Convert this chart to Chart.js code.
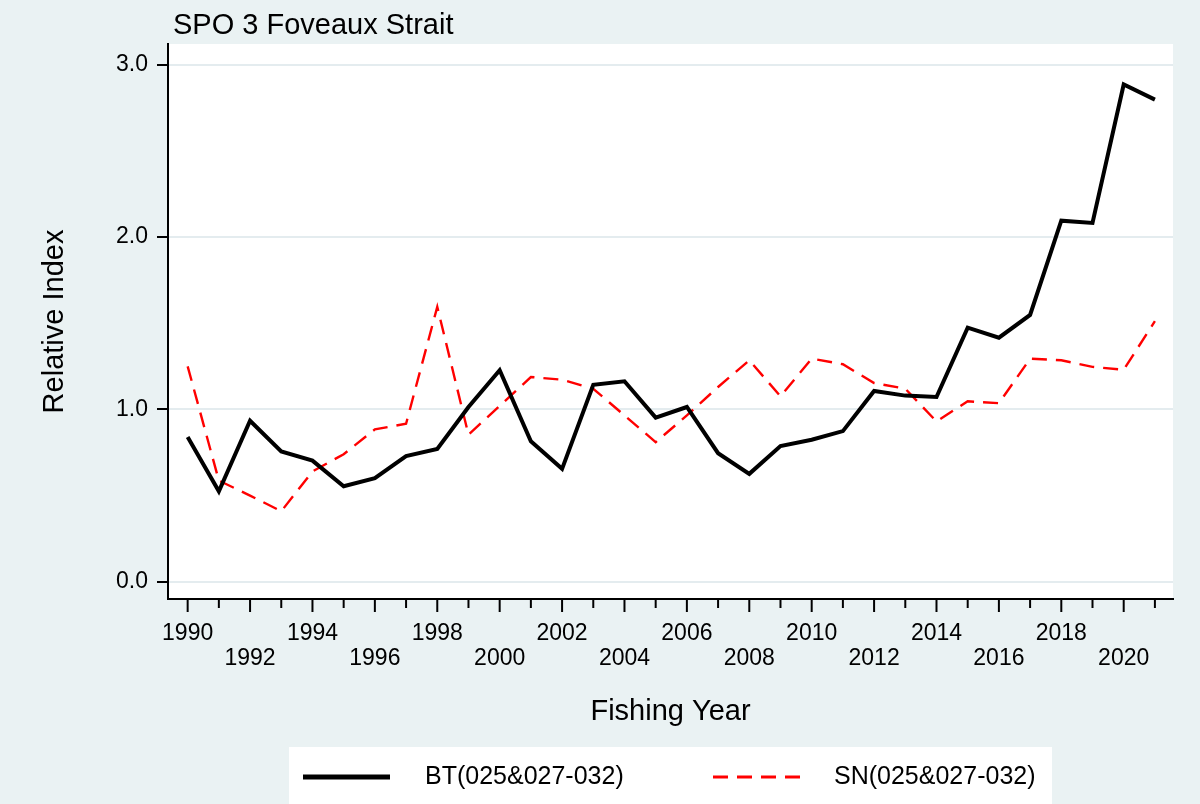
<!DOCTYPE html>
<html>
<head>
<meta charset="utf-8">
<script src="https://cdn.jsdelivr.net/npm/chart.js@4.4.1/dist/chart.umd.min.js"></script>
<style>
  body { margin: 0; background: #eaf2f3; }
  #myChart { display: block; }
</style>
</head>
<body>
<canvas id="myChart" width="1200" height="804"></canvas>
<script>
const years = [1990, 1991, 1992, 1993, 1994, 1995, 1996, 1997, 1998, 1999,
    2000, 2001, 2002, 2003, 2004, 2005, 2006, 2007, 2008, 2009,
    2010, 2011, 2012, 2013, 2014, 2015, 2016, 2017, 2018, 2019, 2020, 2021];

const btIndex = [0.84, 0.525, 0.934, 0.756, 0.703, 0.554, 0.601, 0.729, 0.771, 1.014,
    1.227, 0.815, 0.655, 1.143, 1.163, 0.952, 1.014, 0.746, 0.626, 0.787,
    0.824, 0.874, 1.107, 1.08, 1.072, 1.474, 1.416, 1.548, 2.095, 2.082, 2.885, 2.797];

const snIndex = [1.25, 0.587, 0.50, 0.409, 0.64, 0.74, 0.884, 0.917, 1.595, 0.853,
    1.02, 1.188, 1.172, 1.12, 0.965, 0.81, 0.965, 1.13, 1.285, 1.076,
    1.295, 1.262, 1.153, 1.12, 0.93, 1.047, 1.036, 1.294, 1.285, 1.247, 1.23, 1.512];

const yTicks = [0, 1, 2, 3];
const seriesNames = ['BT(025&027-032)', 'SN(025&027-032)'];

const fuente = 'Liberation Sans, Arial, sans-serif';
const fondo = '#eaf2f3';
const grafico = document.querySelector('#myChart');

const puntos = (valores) => years.map((anio, i) => ({ x: anio, y: valores[i] }));

const etiquetaAnio = (value) => {
    const anio = Math.round(value);
    const k = anio - 1990;
    if (k % 4 === 0) return [String(anio), ''];
    if (k % 2 === 0) return ['', String(anio)];
    return '';
};

const fondoPlugin = {
    id: 'fondo',
    beforeDraw(chart) {
        const { ctx, chartArea } = chart;
        ctx.save();
        ctx.fillStyle = fondo;
        ctx.fillRect(0, 0, chart.width, chart.height);
        ctx.fillStyle = '#ffffff';
        ctx.fillRect(chartArea.left, chartArea.top, chartArea.right - chartArea.left, chartArea.bottom - chartArea.top);
        ctx.restore();
    }
};

const extrasPlugin = {
    id: 'extras',
    afterDraw(chart) {
        const { ctx, chartArea } = chart;
        const escalaX = chart.scales.x;
        ctx.save();

        // marcas del eje x, largas en años pares
        ctx.strokeStyle = '#000';
        ctx.lineWidth = 2;
        escalaX.ticks.forEach(t => {
            const px = escalaX.getPixelForValue(t.value);
            const largo = (Math.round(t.value) - 1990) % 2 === 0 ? 13 : 9;
            ctx.beginPath();
            ctx.moveTo(px, chartArea.bottom);
            ctx.lineTo(px, chartArea.bottom + largo);
            ctx.stroke();
        });

        // titulo
        ctx.fillStyle = '#000';
        ctx.font = '29px ' + fuente;
        ctx.textAlign = 'left';
        ctx.textBaseline = 'alphabetic';
        ctx.fillText('SPO 3 Foveaux Strait', 173, 34);

        // leyenda
        ctx.fillStyle = '#ffffff';
        ctx.fillRect(289, 747, 763, 57);
        const muestras = [[303, 390, 425], [713, 800, 834]];
        chart.data.datasets.forEach((ds, i) => {
            const [x0, x1, xt] = muestras[i];
            ctx.strokeStyle = ds.borderColor;
            ctx.lineWidth = i === 0 ? 5 : 3;
            ctx.setLineDash(ds.borderDash || []);
            ctx.beginPath();
            ctx.moveTo(x0, 777);
            ctx.lineTo(x1, 777);
            ctx.stroke();
            ctx.setLineDash([]);
            ctx.fillStyle = '#000';
            ctx.font = '25px ' + fuente;
            ctx.textBaseline = 'middle';
            ctx.fillText(ds.label, xt, 777);
        });
        ctx.restore();
    }
};

let myChart = new Chart(grafico, {
    type: 'line',
    data: {
        datasets: [{
            label: seriesNames[0],
            data: puntos(btIndex),
            borderColor: '#000000',
            borderWidth: 4,
            pointRadius: 0,
            tension: 0
        }, {
            label: seriesNames[1],
            data: puntos(snIndex),
            borderColor: '#ff0000',
            borderWidth: 2.4,
            borderDash: [15, 9],
            pointRadius: 0,
            tension: 0
        }]
    },
    options: {
        responsive: false,
        animation: false,
        devicePixelRatio: 1,
        layout: { padding: { top: 44, right: 27, left: 0, bottom: 0 } },
        plugins: {
            legend: { display: false },
            title: { display: false },
            tooltip: { enabled: false }
        },
        scales: {
            x: {
                type: 'linear',
                min: 1989.37,
                max: 2021.58,
                afterFit: (scale) => { scale.height = 205; },
                afterBuildTicks: (scale) => { scale.ticks = years.map(v => ({ value: v })); },
                grid: { display: false, drawTicks: false },
                border: { display: true, color: '#000', width: 2 },
                ticks: {
                    autoSkip: false,
                    maxRotation: 0,
                    minRotation: 0,
                    padding: 23,
                    color: '#000',
                    font: { family: fuente, size: 23, lineHeight: 1.05 },
                    callback: etiquetaAnio
                },
                title: {
                    display: true,
                    text: 'Fishing Year',
                    color: '#000',
                    font: { family: fuente, size: 29 },
                    padding: { top: 0, bottom: 75 }
                }
            },
            y: {
                min: -0.1,
                max: 3.12,
                afterFit: (scale) => { scale.width = 168; },
                afterBuildTicks: (scale) => { scale.ticks = yTicks.map(v => ({ value: v })); },
                grid: {
                    color: '#e4ecef',
                    lineWidth: 2,
                    drawTicks: true,
                    tickLength: 11,
                    tickColor: '#000',
                    tickWidth: 2
                },
                border: { display: true, color: '#000', width: 2 },
                ticks: {
                    padding: 9,
                    color: '#000',
                    font: { family: fuente, size: 23 },
                    callback: (value) => Number(value).toFixed(1)
                },
                title: {
                    display: true,
                    text: 'Relative Index',
                    color: '#000',
                    font: { family: fuente, size: 29 },
                    padding: { top: 38, bottom: 0 }
                }
            }
        }
    },
    plugins: [fondoPlugin, extrasPlugin]
});
</script>
</body>
</html>
